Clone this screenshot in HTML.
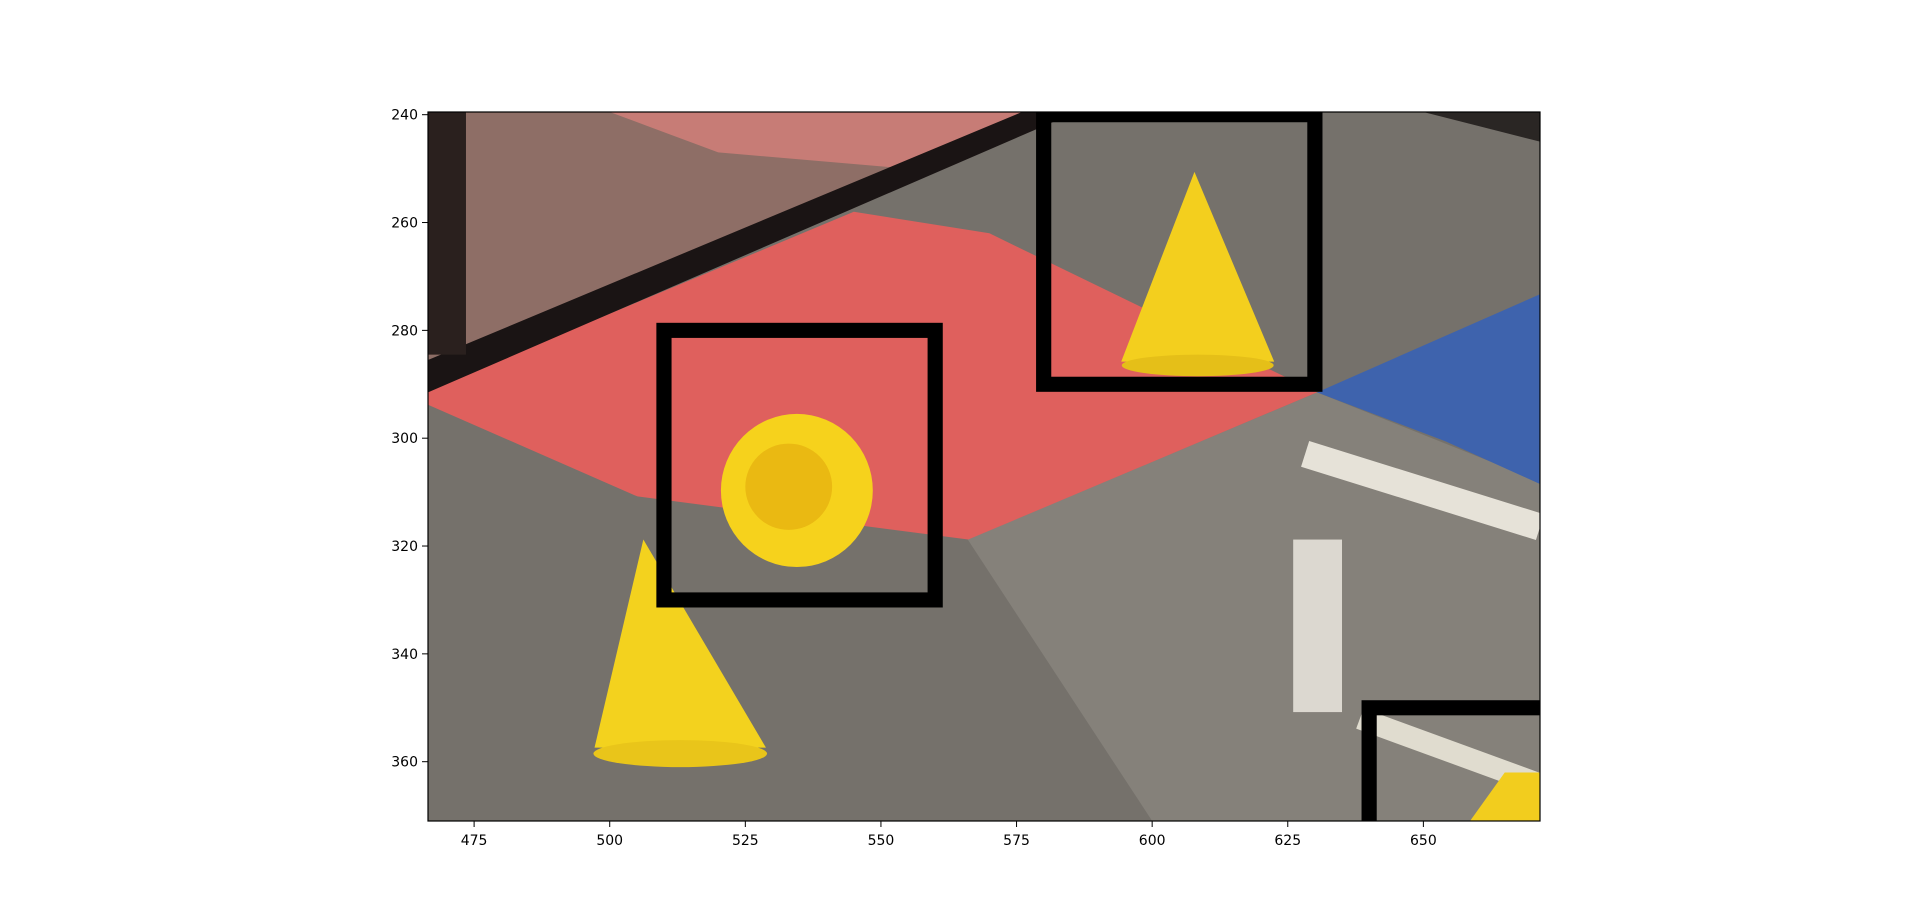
<!DOCTYPE html>
<html><head><meta charset="utf-8"><style>
html,body{margin:0;padding:0;background:#fff;overflow:hidden;width:1920px;height:923px;}
svg{display:block;font-family:"DejaVu Sans","Liberation Sans",sans-serif;}
</style></head><body>
<svg id="fig" width="1920" height="923" viewBox="0 0 1920 923">
  <svg id="img" x="428" y="112" width="1112" height="709" viewBox="466.5 239.5 205 131.5" preserveAspectRatio="none">
    <rect x="466.5" y="239.5" width="205" height="131.5" fill="#75716b"/>
    <polygon points="566,318.8 630.4,291.5 671.5,308 671.5,371 600,371" fill="#85817a"/>
    <polygon points="466.5,239.5 580,239.5 466.5,288" fill="#8e6e66"/>
    <polygon points="500,239.5 580,239.5 555,250 520,247" fill="#c77c76"/>
    <polygon points="466.5,291 545,258 570,262 630.4,291.5 566.1,318.8 505.1,310.8 466.5,293.8" fill="#df605d"/>
    <polygon points="630.4,291.5 671.5,273.3 671.5,308.5 654.1,300.6" fill="#3e63ad"/>
    <polygon points="466.5,285.5 576,239.5 586,239.5 466.5,291.5" fill="#1a1414"/>
    <rect x="466.5" y="239.5" width="7" height="45" fill="#2a201e"/>
    <polygon points="650,239.5 671.5,239.5 671.5,245" fill="#2a2624"/>
    <line x1="628.2" y1="302.9" x2="671.5" y2="316.5" stroke="#e6e2d8" stroke-width="5"/>
    <rect x="626" y="318.8" width="9" height="32" fill="#dcd8d0"/>
    <line x1="638.3" y1="352" x2="671.5" y2="364.2" stroke="#e0dccf" stroke-width="4"/>
    <polygon points="506.2,318.8 497.2,357.4 528.8,357.4" fill="#f3d21e"/>
    <ellipse cx="513" cy="358.5" rx="16" ry="2.5" fill="#e9c51a"/>
    <polygon points="607.8,250.6 594.3,285.8 622.5,285.8" fill="#f3cf1e"/>
    <ellipse cx="608.4" cy="286.5" rx="14" ry="2" fill="#e5bf18"/>
    <ellipse cx="534.5" cy="309.7" rx="14" ry="14.2" fill="#f6d21c"/>
    <ellipse cx="533" cy="309" rx="8" ry="8" fill="#eab912"/>
    <polygon points="665,362 658.6,371 671.5,371 671.5,362" fill="#f2cd1e"/>
  </svg>
  <g id="boxes"></g>
  <rect x="428" y="112" width="1112" height="709" fill="none" stroke="#000" stroke-width="1.2"/>
  <g id="xticks"></g>
  <g id="yticks"></g>
</svg>
<script>
const xTicks = [475, 500, 525, 550, 575, 600, 625, 650];
const yTicks = [240, 260, 280, 300, 320, 340, 360];
const boxX = [510, 580, 640];
const boxY = [280, 240, 350];
const boxW = [50, 50, 50];
const boxH = [50, 50, 50];
const X0 = 466.5, X1 = 671.5, Y0 = 239.5, Y1 = 371;
const L = 428, T = 112, W = 1112, H = 709;
const sx = v => L + (v - X0) / (X1 - X0) * W;
const sy = v => T + (v - Y0) / (Y1 - Y0) * H;
const NS = 'http://www.w3.org/2000/svg';
const img = document.getElementById('img');
for (let i = 0; i < boxX.length; i++) {
  const r = document.createElementNS(NS, 'rect');
  r.setAttribute('x', boxX[i]); r.setAttribute('y', boxY[i]);
  r.setAttribute('width', boxW[i]); r.setAttribute('height', boxH[i]);
  r.setAttribute('fill', 'none'); r.setAttribute('stroke', '#000'); r.setAttribute('stroke-width', '2.8');
  
  
  img.appendChild(r);
}
const xg = document.getElementById('xticks');
xTicks.forEach(v => {
  const x = sx(v);
  const l = document.createElementNS(NS, 'line');
  l.setAttribute('x1', x); l.setAttribute('x2', x); l.setAttribute('y1', 821); l.setAttribute('y2', 827);
  l.setAttribute('stroke', '#000'); l.setAttribute('stroke-width', '1');
  
  
  xg.appendChild(l);
  const t = document.createElementNS(NS, 'text');
  t.setAttribute('x', x); t.setAttribute('y', 845); t.setAttribute('text-anchor', 'middle'); t.setAttribute('font-size', '14');
  t.textContent = v;
  
  
  xg.appendChild(t);
});
const yg = document.getElementById('yticks');
yTicks.forEach(v => {
  const y = sy(v);
  const l = document.createElementNS(NS, 'line');
  l.setAttribute('x1', 422); l.setAttribute('x2', 428); l.setAttribute('y1', y); l.setAttribute('y2', y);
  l.setAttribute('stroke', '#000'); l.setAttribute('stroke-width', '1');
  
  
  yg.appendChild(l);
  const t = document.createElementNS(NS, 'text');
  t.setAttribute('x', 418); t.setAttribute('y', y + 5); t.setAttribute('text-anchor', 'end'); t.setAttribute('font-size', '14');
  t.textContent = v;
  
  
  yg.appendChild(t);
});
</script>
</body></html>
